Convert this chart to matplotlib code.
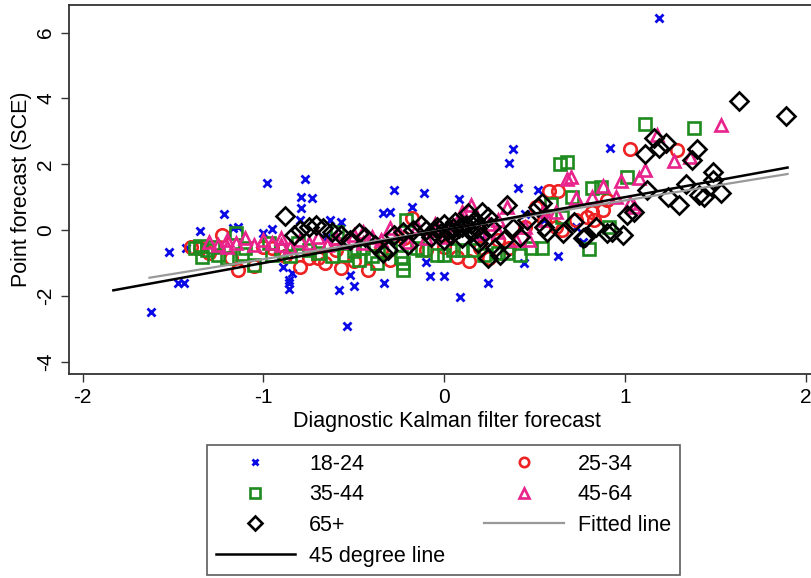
import numpy as np
import matplotlib.pyplot as plt

plt.rcParams['font.family'] = ['Liberation Sans', 'DejaVu Sans']
plt.rcParams['axes.unicode_minus'] = False

# points, (x, y) per age group
x_18_24 = [-1.62, -1.52, -1.47, -1.44, -1.43, -1.35, -1.22, -1.14, -1.17, -0.98, -1.00, -0.95, -0.89, -0.84,
           -0.86, -0.86, -0.86, -0.79, -0.80, -0.77, -0.79, -0.73, -0.63, -0.57, -0.58, -0.54, -0.52, -0.50,
           -0.34, -0.30, -0.33, -0.28, -0.18, -0.11, -0.10, -0.08, 0.00, 0.08, 0.09, 0.24, 0.36, 0.38, 0.41,
           0.52, 0.63, 0.44, 0.92, 1.19, 0.73, 0.77, -0.65, 0.20, 0.55, 0.45]
y_18_24 = [-2.48, -0.66, -1.60, -1.62, -0.55, -0.02, 0.50, 0.10, 0.06, 1.44, -0.08, 0.03, -1.12, -1.31,
           -1.52, -1.61, -1.79, 0.66, 0.31, 1.56, 1.00, 0.97, 0.31, 0.25, -1.82, -2.92, -1.37, -1.71,
           0.52, 0.55, -1.62, 1.22, 0.70, 1.14, -0.97, -1.39, -1.39, 0.95, -2.03, -1.61, 2.03, 2.47, 1.27,
           1.22, -0.79, -1.00, 2.50, 6.44, 0.10, -0.36, -0.20, -0.30, 0.30, 0.50]

x_25_34 = [-1.40, -1.23, -1.14, -1.05, -0.95, -0.80, -0.75, -0.66, -0.57, -0.42, -0.30, -0.18, -0.10, 0.07,
           0.14, 0.25, 0.36, 0.51, 0.55, 0.58, 0.63, 0.73, 0.79, 0.83, 0.88, 1.03, 1.29, -1.30, -1.00,
           -0.60, 0.30, 0.65, 0.90, 0.45, -1.35, -1.18, -0.88, -0.70, -0.50, -0.35, -0.22, 0.00, 0.20,
           0.62, 0.82]
y_25_34 = [-0.50, -0.16, -1.22, -1.10, -0.55, -1.13, -0.86, -1.01, -1.14, -1.21, -0.90, 0.38, -0.60, -0.81,
           -0.95, -0.85, -0.55, 0.70, 0.30, 1.19, 1.19, 0.31, 0.40, 0.31, 0.62, 2.46, 2.43, -0.70, -0.50,
           -0.60, -0.30, 0.00, 0.90, 0.10, -0.55, -0.85, -0.80, -0.85, -0.95, -0.60, -0.25, -0.50, -0.55,
           0.10, 0.55]

x_35_44 = [-1.35, -1.31, -1.34, -1.28, -1.20, -1.15, -1.10, -1.05, -0.97, -0.90, -0.81, -0.70, -0.62, -0.59,
           -0.50, -0.47, -0.40, -0.37, -0.30, -0.24, -0.23, -0.23, -0.21, -0.12, -0.04, 0.00, 0.10, 0.16,
           0.30, 0.42, 0.48, 0.54, 0.59, 0.64, 0.68, 0.71, 0.80, 0.82, 0.87, 0.91, 1.01, 1.11, 1.38, 0.65,
           -1.38, -1.25, -1.12, -0.95, -0.85, -0.75, -0.55, -0.45, -0.15, 0.05, 0.22, 0.35]
y_35_44 = [-0.48, -0.62, -0.81, -0.50, -0.84, -0.10, -0.55, -1.05, -0.40, -0.60, -0.40, -0.70, -0.80, -0.05,
           -0.65, -0.91, -0.80, -1.00, -0.55, -0.81, -1.00, -1.22, 0.32, -0.62, -0.76, -0.76, -0.60, -0.61,
           -0.70, -0.76, -0.55, -0.55, 0.80, 2.00, 2.07, 1.01, -0.56, 1.28, 1.31, 0.10, 1.62, 3.22, 3.10, 0.40,
           -0.55, -0.75, -0.72, -0.75, -0.80, -0.60, -0.75, -0.55, -0.55, -0.62, -0.75, -0.70]

x_45_64 = [-1.30, -1.25, -1.20, -1.15, -1.10, -1.05, -1.00, -0.95, -0.90, -0.85, -0.80, -0.75, -0.70, -0.65,
           -0.60, -0.55, -0.50, -0.45, -0.40, -0.35, -0.30, -0.25, -0.20, -0.15, -0.10, -0.05, 0.00, 0.05,
           0.10, 0.15, 0.20, 0.25, 0.30, 0.35, 0.40, 0.47, 0.55, 0.62, 0.68, 0.70, 0.73, 0.82, 0.88, 0.95,
           0.98, 1.03, 1.05, 1.08, 1.11, 1.18, 1.27, 1.36, 1.53, 0.10, 0.30, 0.45, -0.05, 0.55, -0.45,
           -0.90, -1.20]
y_45_64 = [-0.35, -0.45, -0.30, -0.40, -0.25, -0.45, -0.30, -0.40, -0.25, -0.50, -0.30, -0.40, -0.20, -0.45,
           -0.25, -0.35, -0.15, -0.40, -0.20, -0.30, 0.05, -0.10, -0.35, 0.10, -0.25, 0.00, -0.20, 0.15,
           0.55, 0.75, -0.10, 0.20, -0.05, 0.70, -0.30, -0.30, 0.30, 0.55, 1.55, 1.61, 0.97, 1.00, 1.34, 1.00,
           1.48, 0.82, 0.70, 1.58, 1.82, 2.88, 2.10, 2.22, 3.19, 0.35, 0.30, 0.10, 0.20, 0.60, -0.05,
           -0.45, -0.50]

x_65 = [-0.88, -0.83, -0.80, -0.75, -0.71, -0.67, -0.62, -0.57, -0.52, -0.47, -0.44, -0.38, -0.34, -0.31,
        -0.28, -0.23, -0.20, -0.17, -0.13, -0.10, -0.07, -0.04, -0.02, 0.00, 0.02, 0.04, 0.06, 0.08, 0.10,
        0.12, 0.13, 0.15, 0.17, 0.19, 0.21, 0.24, 0.24, 0.26, 0.28, 0.31, 0.33, 0.35, 0.38, 0.42, 0.46,
        0.52, 0.55, 0.57, 0.54, 0.66, 0.72, 0.77, 0.78, 0.84, 0.90, 0.93, 0.99, 1.01, 1.05, 1.11, 1.12,
        1.16, 1.19, 1.23, 1.24, 1.30, 1.34, 1.37, 1.40, 1.41, 1.44, 1.49, 1.49, 1.53, 1.63, 1.89,
        0.05, -0.05, 0.10, 0.15, 0.00, 0.20, 0.18]
y_65 = [0.43, -0.15, 0.00, 0.09, 0.15, 0.06, -0.06, -0.15, -0.30, -0.10, -0.21, -0.45, -0.70, -0.61,
        -0.15, -0.06, -0.45, 0.00, 0.15, 0.00, -0.20, 0.10, -0.10, 0.20, 0.00, -0.15, 0.25, 0.05, -0.25,
        0.15, 0.52, -0.05, 0.30, -0.40, 0.55, 0.40, -0.85, 0.10, -0.55, -0.76, -0.30, 0.76, 0.05, -0.20, 0.30,
        0.70, 0.10, -0.05, 0.81, -0.09, 0.25, -0.24, -0.21, 0.10, -0.09, -0.06, -0.15, 0.46, 0.55, 2.31, 1.22,
        2.81, 2.49, 2.64, 1.00, 0.76, 1.40, 2.13, 2.45, 1.07, 1.00, 1.52, 1.77, 1.12, 3.92, 3.47,
        0.05, -0.05, 0.10, 0.20, -0.30, -0.20, 0.05]

# fitted line and 45 degree line, as read
fit_x = [-1.63, 1.90]
fit_intercept = 0.008
fit_slope = 0.893
deg45_x = [-1.83, 1.90]

fig = plt.figure(figsize=(8.12, 5.78), dpi=100)
ax = fig.add_axes([0.0853, 0.3529, 0.9291, 0.639])

ax.plot(x_18_24, y_18_24, ls='none', marker='x', ms=5.5, mew=2.0, color='#0a0ae6', label='18-24')
ax.plot(x_25_34, y_25_34, ls='none', marker='o', ms=9, mew=1.9, mfc='none', color='#ee2222', label='25-34')
ax.plot(x_35_44, y_35_44, ls='none', marker='s', ms=9, mew=1.9, mfc='none', color='#1e8b1e', label='35-44')
ax.plot(x_45_64, y_45_64, ls='none', marker='^', ms=9, mew=1.9, mfc='none', color='#e8238c', label='45-64')
ax.plot(x_65, y_65, ls='none', marker='D', ms=9.5, mew=1.9, mfc='none', color='black', label='65+')

fx = np.array(fit_x)
ax.plot(fx, fit_intercept + fit_slope*fx, color='#999999', lw=1.6, label='Fitted line')
dx = np.array(deg45_x)
ax.plot(dx, dx, color='black', lw=1.8, label='45 degree line')

ax.set_xlim(-2.074, 2.10)
ax.set_ylim(-4.374, 6.85)
ax.set_xticks([-2, -1, 0, 1, 2])
ax.set_yticks([-4, -2, 0, 2, 4, 6])
ax.set_yticklabels(['-4', '-2', '0', '2', '4', '6'], rotation=90, va='center')
ax.tick_params(length=6, width=1, colors='#333333', labelcolor='black', labelsize=15, pad=4)
for s in ax.spines.values():
    s.set_linewidth(1.3)
    s.set_color('#333333')

ax.set_xlabel('Diagnostic Kalman filter forecast', fontsize=15.5, labelpad=3)
ax.set_ylabel('Point forecast (SCE)', fontsize=15.5, labelpad=3)

# legend rows as in the original: 18-24 | 25-34, 35-44 | 45-64, 65+ | Fitted, 45 degree
h, l = ax.get_legend_handles_labels()
order = [0, 2, 4, 6, 1, 3, 5]
leg = fig.legend([h[i] for i in order], [l[i] for i in order], ncol=2, loc='upper left',
                 bbox_to_anchor=(207/812, 1 - 445/578), borderaxespad=0, fontsize=15.5, frameon=True,
                 fancybox=False, edgecolor='#333333', handlelength=3.7, handletextpad=0.65,
                 columnspacing=1.8, labelspacing=0.45, borderpad=0.4, markerscale=0.75)
leg.get_frame().set_linewidth(1.2)

fig.savefig('out.png', dpi=100)
